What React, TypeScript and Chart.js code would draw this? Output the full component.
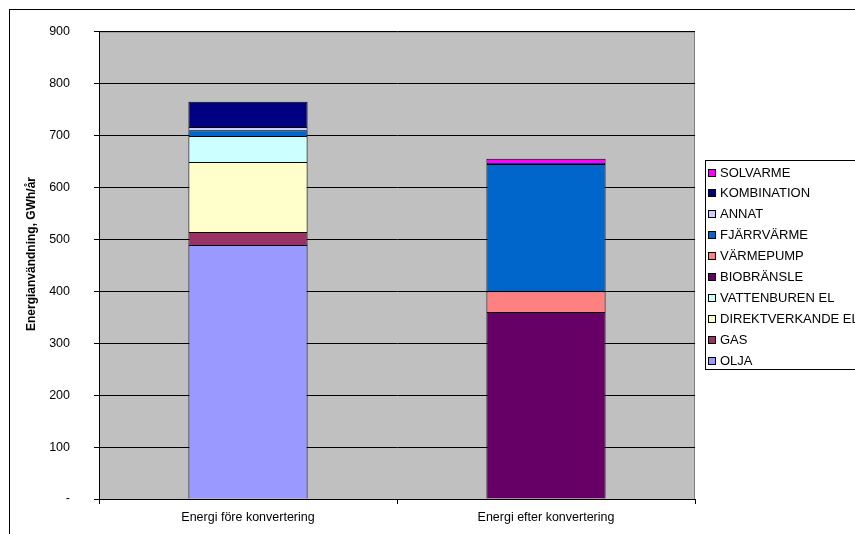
import React, { useEffect, useRef } from "react";
import { Chart, registerables } from "chart.js";

Chart.register(...registerables);

const categories = ["Energi före konvertering", "Energi efter konvertering"];
const seriesNames = [
  "OLJA",
  "GAS",
  "DIREKTVERKANDE EL",
  "VATTENBUREN EL",
  "BIOBRÄNSLE",
  "VÄRMEPUMP",
  "FJÄRRVÄRME",
  "ANNAT",
  "KOMBINATION",
  "SOLVARME",
];
const olja = [489, 0];
const gas = [25, 0];
const direktverkandeEl = [135, 0];
const vattenburenEl = [50, 0];
const biobransle = [0, 360];
const varmepump = [0, 40];
const fjarrvarme = [11, 245];
const annat = [6, 0];
const kombination = [49, 2];
const solvarme = [0, 8];
const seriesColors = [
  "#9999FF",
  "#993366",
  "#FFFFCC",
  "#CCFFFF",
  "#660066",
  "#FF8080",
  "#0066CC",
  "#CCCCFF",
  "#000080",
  "#FF00FF",
];
const yTicks = [0, 100, 200, 300, 400, 500, 600, 700, 800, 900];
const yTitle = "Energianvändning, GWh/år";

const FONT = "'Liberation Sans', Arial, sans-serif";

export default function App() {
  const ref = useRef<HTMLCanvasElement | null>(null);
  useEffect(() => {
    document.body.style.margin = "0";
    const series = [
      olja,
      gas,
      direktverkandeEl,
      vattenburenEl,
      biobransle,
      varmepump,
      fjarrvarme,
      annat,
      kombination,
      solvarme,
    ];
    const framePlugin = {
      id: "frame",
      beforeDraw(chart: any) {
        const { ctx, chartArea } = chart;
        ctx.save();
        ctx.fillStyle = "#fff";
        ctx.fillRect(0, 0, chart.width, chart.height);
        ctx.strokeStyle = "#000";
        ctx.lineWidth = 1;
        ctx.strokeRect(9.5, 9.5, 900, 600);
        ctx.fillStyle = "#C0C0C0";
        ctx.fillRect(chartArea.left, chartArea.top, chartArea.right - chartArea.left, chartArea.bottom - chartArea.top);
        ctx.strokeStyle = "#808080";
        ctx.strokeRect(chartArea.left + 0.5, chartArea.top + 0.5, chartArea.right - chartArea.left - 1, chartArea.bottom - chartArea.top);
        ctx.translate(32, 254);
        ctx.rotate(-Math.PI / 2);
        ctx.fillStyle = "#000";
        ctx.font = `bold 12px ${FONT}`;
        ctx.textAlign = "center";
        ctx.textBaseline = "middle";
        ctx.fillText(yTitle, 0, 0);
        ctx.restore();
      },
      afterDraw(chart: any) {
        const { ctx } = chart;
        const ds = chart.data.datasets;
        ctx.save();
        const lx = 705.5;
        const ly = 160.5;
        ctx.fillStyle = "#fff";
        ctx.fillRect(lx, ly, 200, 209);
        ctx.strokeStyle = "#000";
        ctx.lineWidth = 1;
        ctx.strokeRect(lx, ly, 200, 209);
        ctx.font = `13px ${FONT}`;
        ctx.textBaseline = "middle";
        ctx.textAlign = "left";
        for (let i = ds.length - 1, row = 0; i >= 0; i--, row++) {
          const y = 172.5 + row * 20.9;
          const sy = Math.round(y) - 3;
          ctx.fillStyle = ds[i].backgroundColor;
          ctx.fillRect(709, sy, 6, 6);
          ctx.strokeStyle = "#000";
          ctx.strokeRect(708.5, sy - 0.5, 7, 7);
          ctx.fillStyle = "#000";
          ctx.fillText(ds[i].label, 720, y + 0.5);
        }
        ctx.restore();
      },
    };
    const chart = new Chart(ref.current as HTMLCanvasElement, {
      type: "bar",
      data: {
        labels: categories,
        datasets: series.map((vals, i) => ({
          label: seriesNames[i],
          data: vals.map((v) => (v === 0 ? null : v)),
          backgroundColor: seriesColors[i],
          borderColor: "#000",
          borderWidth: 1,
          categoryPercentage: 1,
          barPercentage: 0.4,
        })),
      },
      options: {
        animation: false,
        responsive: false,
        maintainAspectRatio: false,
        layout: { padding: { left: 10, top: 31, right: 160, bottom: 0 } },
        plugins: {
          legend: { display: false },
          tooltip: { enabled: false },
        },
        scales: {
          x: {
            stacked: true,
            grid: {
              drawOnChartArea: false,
              drawTicks: true,
              tickLength: 5,
              color: "#000",
              offset: true,
            },
            border: { color: "#000", width: 1 },
            ticks: {
              color: "#000",
              font: { family: FONT, size: 12.5 },
              padding: 6,
              maxRotation: 0,
            },
            afterFit(axis: any) {
              axis.height = 35;
            },
          },
          y: {
            stacked: true,
            min: 0,
            max: 900,
            afterBuildTicks(axis: any) {
              axis.ticks = yTicks.map((v) => ({ value: v }));
            },
            grid: {
              color: "#000",
              tickLength: 5,
              drawTicks: true,
            },
            border: { color: "#000", width: 1 },
            ticks: {
              color: "#000",
              font: { family: FONT, size: 12.5 },
              padding: 24,
              callback: (v: any) => (Number(v) === 0 ? "-" : String(v)),
            },
            afterFit(axis: any) {
              axis.width = 89;
            },
          },
        },
      },
      plugins: [framePlugin],
    } as any);
    return () => chart.destroy();
  }, []);
  return (
    <div style={{ position: "fixed", left: 0, top: 0, width: 855, height: 534 }}>
      <canvas ref={ref} width={855} height={534} style={{ width: 855, height: 534, display: "block" }} />
    </div>
  );
}
